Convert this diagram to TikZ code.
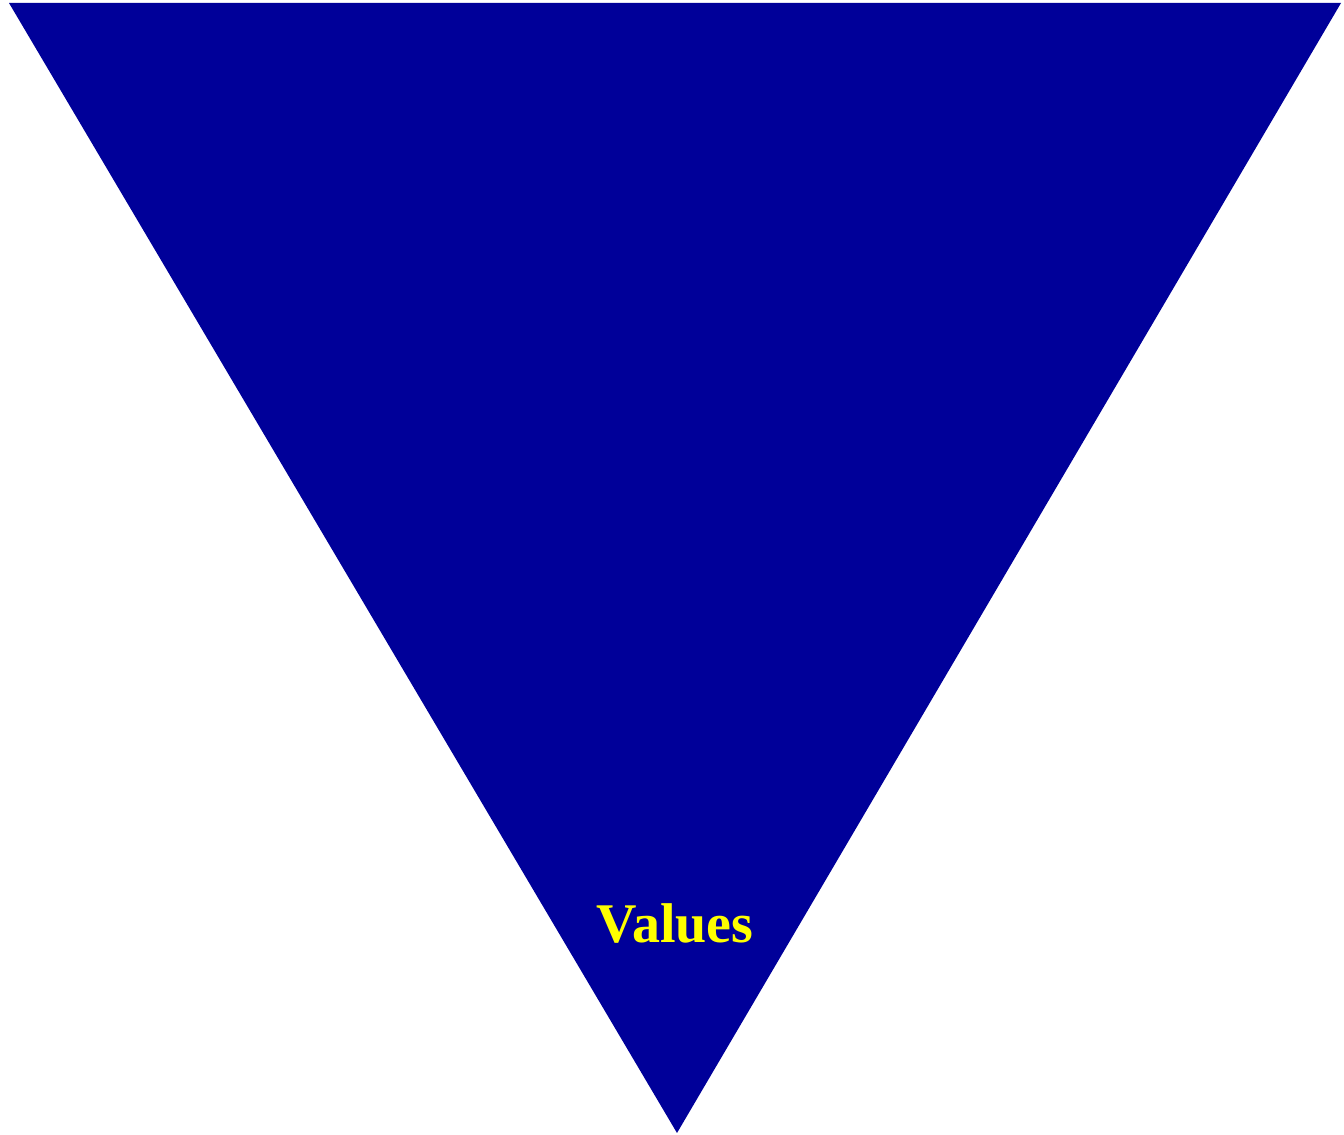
\documentclass[tikz,border=0pt]{standalone}
\usepackage{fontspec}
\setmainfont{Liberation Serif}
\definecolor{tri}{RGB}{0,0,153}
\definecolor{txt}{RGB}{255,255,0}
\begin{document}
\begin{tikzpicture}[x=1pt,y=1pt,
  label/.style={text=txt,font=\fontsize{56}{60}\selectfont\bfseries,inner sep=0pt,anchor=base}]
\useasboundingbox (0,0) rectangle (1344,1135);
\fill[tri] (9,1132) -- (1341,1132) -- (677,2) -- cycle;
\node[label] (v) at (675,192) {Values};
\end{tikzpicture}
\end{document}
